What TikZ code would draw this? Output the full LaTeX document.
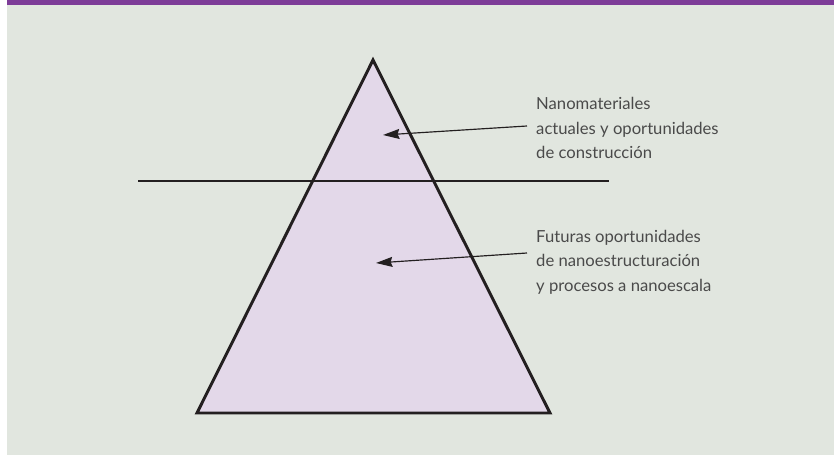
\documentclass[tikz,border=0pt]{standalone}
\usepackage{fontspec}
\setmainfont{Lato}
\usetikzlibrary{arrows.meta}
\definecolor{bggreen}{HTML}{E1E6DF}
\definecolor{barpurple}{HTML}{7D3C98}
\definecolor{pyrfill}{HTML}{E3D8E9}
\definecolor{inkline}{HTML}{231F20}
\definecolor{labelgray}{HTML}{4A4A4A}
\begin{document}
\begin{tikzpicture}[x=0.03cm,y=-0.03cm]
    \tikzstyle{label}=[anchor=west,align=left,inner sep=0pt,text=labelgray,
      font=\fontsize{14.2}{20.8}\selectfont]
    \tikzstyle{pointer}=[draw=inkline,line width=1pt,-{Stealth[length=14pt,width=8.5pt,inset=1.5pt]}]

    % canvas
    \useasboundingbox (0,0) rectangle (834,455);
    \fill[white] (0,0) rectangle (834,455);
    \fill[bggreen] (7,0) rectangle (834,455);
    \fill[barpurple] (7,0) rectangle (834,5);

    % corners of the pyramid
    \coordinate (apex) at (373,60);
    \coordinate (base-left) at (197,413);
    \coordinate (base-right) at (550,413);
    \filldraw[fill=pyrfill,draw=inkline,line width=2.5pt,line join=miter]
      (apex) -- (base-right) -- (base-left) -- cycle;

    % dividing line
    \coordinate (cut-left) at (138,181);
    \coordinate (cut-right) at (609,181);
    \draw[inkline,line width=2pt] (cut-left) -- (cut-right);

    % labels
    \node[label] (actual) at (536,128) {Nanomateriales\\actuales y oportunidades\\de construcción};
    \node[label] (futura) at (536,262) {Futuras oportunidades\\de nanoestructuración\\y procesos a nanoescala};

    % arrows into the pyramid
    \coordinate (actual-tip) at (383,135);
    \coordinate (futura-tip) at (376,263);
    \draw[pointer] ([shift={(-9,-2)}]actual.west) -- (actual-tip);
    \draw[pointer] ([shift={(-9,-9)}]futura.west) -- (futura-tip);
\end{tikzpicture}
\end{document}
